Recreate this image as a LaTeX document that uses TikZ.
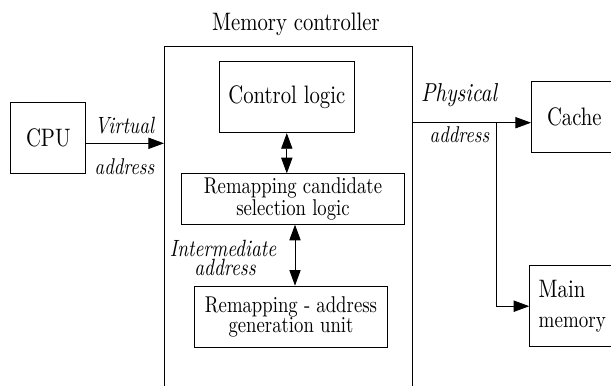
\documentclass[tikz,border=0pt]{standalone}
\usepackage{fontspec}
% narrow, tall letter shapes throughout, one design size at every size
\setmainfont{lmroman10-regular.otf}[ItalicFont=lmroman10-italic.otf, FakeStretch=0.82]
\usetikzlibrary{arrows.meta}

\begin{document}
\begin{tikzpicture}[x=0.578pt, y=-0.578pt, line width=0.5pt,
  box/.style={draw, inner sep=0pt, align=center},
  big/.style={font=\fontsize{14.6}{16}\selectfont},
  small/.style={font=\fontsize{13.2}{11.6}\selectfont},
  lbl/.style={inner sep=0pt, anchor=base},
  tip/.style={-{Triangle[length=9pt,width=6.5pt]}},
  dtip/.style={{Triangle[length=9pt,width=6.5pt]}-{Triangle[length=9pt,width=6.5pt]}}]

\useasboundingbox (0,0) rectangle (611,385);
\clip (0,0) rectangle (611,385);

% memory controller frame, open at the bottom
\coordinate (mcTL) at (164,46);
\coordinate (mcTR) at (412.3,46);
\coordinate (mcBL) at (164,400);
\coordinate (mcBR) at (412.3,400);
\draw (mcBL) -- (mcTL) -- (mcTR) -- (mcBR);
\node[lbl, big] (mctitle) at (296,30.7) {Memory controller};

% blocks
\node[box, big, minimum width=43.5pt, minimum height=41pt] (cpu) at (48.3,137.8) {CPU};
\node[box, big, minimum width=78pt, minimum height=41.4pt] (ctrl) at (286.8,96.9) {Control logic};
\node[box, small, minimum width=128.7pt, minimum height=29.2pt] (cand) at (293,199) {Remapping candidate\\selection logic};
\node[box, small, minimum width=111.8pt, minimum height=35.4pt] (addr) at (291,316.7) {Remapping - address\\generation unit};
\node[box, big, anchor=west, minimum height=41pt, inner xsep=9pt, text width=68pt, align=left] (cache) at (531,117.2) {Cache};
\node[box, anchor=west, minimum height=46.8pt, inner xsep=5.2pt, text width=70pt, align=left,
      font=\fontsize{13.4}{17.3}\selectfont] (mem) at (529.3,306.2) {{\fontsize{14.6}{17.3}\selectfont Main}\\memory};

% virtual address into the controller
\coordinate (vin) at (164,143.3);
\draw[tip] (vin -| cpu.east) -- (vin);
\node[lbl, font=\fontsize{13.6}{15}\selectfont\itshape] (vlab1) at (124.5,133) {Virtual};
\node[lbl, font=\fontsize{13.2}{14}\selectfont\itshape] (vlab2) at (124.5,174) {address};

% links inside the controller
\draw[dtip] (ctrl.south) -- (cand.north -| ctrl.south);
\coordinate (xa) at (295,0);
\draw[dtip] (cand.south -| xa) -- (addr.north -| xa);
\node[lbl, font=\fontsize{13.6}{14}\selectfont\itshape] (ilab1) at (223,256) {Intermediate};
\node[lbl, font=\fontsize{13.6}{14}\selectfont\itshape] (ilab2) at (225,275) {address};

% physical address out to cache and main memory
\coordinate (pout) at (412.3,122.7);
\coordinate (br) at (496,122.7);
\draw[tip] (pout) -- (pout -| cache.west);
\draw[tip] (br) |- (mem.west);
\node[lbl, font=\fontsize{15}{16}\selectfont\itshape] (plab1) at (459,101.7) {Physical};
\node[lbl, font=\fontsize{13.2}{14}\selectfont\itshape] (plab2) at (459.5,142.7) {address};

\end{tikzpicture}
\end{document}
